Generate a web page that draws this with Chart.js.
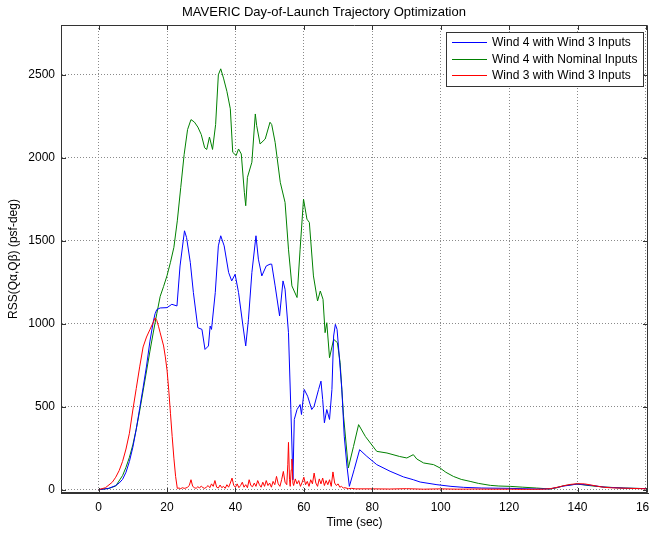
<!DOCTYPE html>
<html>
<head>
<meta charset="utf-8">
<script src="https://cdn.jsdelivr.net/npm/chart.js@4"></script>
<style>
  html, body { margin: 0; padding: 0; background: #fff; }
  #wrap { width: 649px; height: 533px; }
</style>
</head>
<body>
<div id="wrap"><canvas id="myChart" width="649" height="533"></canvas></div>
<script>
// --- data (time in sec, RSS in psf-deg) ---
const titleText = 'MAVERIC Day-of-Launch Trajectory Optimization';
const seriesNames = ['Wind 4 with Wind 3 Inputs', 'Wind 4 with Nominal Inputs', 'Wind 3 with Wind 3 Inputs'];
const seriesColors = ['#0000ff', '#008000', '#ff0000'];
const xTicks = [0, 20, 40, 60, 80, 100, 120, 140, 160];
const yTicks = [0, 500, 1000, 1500, 2000, 2500];

const blueT = [0, 3, 5, 6, 7, 8, 9, 10, 11, 12, 13, 14, 15, 16, 16.5, 17, 18, 20, 21.4, 22.9, 23.8, 25.1, 25.7, 26.8, 27.7, 29, 30.2, 31.1, 32.1, 32.6, 33, 34.1, 35, 35.7, 36.7, 38, 38.9, 39.9, 40.9, 42.2, 43, 43.8, 44.8, 46, 46.7, 47.7, 49, 50.1, 50.6, 51.6, 52.9, 53.9, 54.5, 55.5, 56.2, 56.8, 57.2, 58, 58.9, 59.3, 60.1, 61.1, 62.3, 63, 64.3, 65, 65.5, 66, 66.7, 67.5, 68.2, 68.7, 69.2, 69.7, 70.1, 71.1, 71.8, 72.6, 73.3, 74.7, 76.3, 78.4, 81.3, 85.2, 89.1, 92, 94, 98.9, 103, 106.7, 112, 120, 128, 132, 136, 140, 144, 148, 154, 160.6];
const blueV = [0, 8, 25, 40, 62, 105, 170, 255, 365, 490, 615, 745, 895, 1015, 1060, 1085, 1095, 1097, 1117, 1107, 1348, 1560, 1520, 1369, 1188, 976, 966, 845, 866, 986, 966, 1188, 1469, 1530, 1469, 1309, 1258, 1298, 1188, 986, 866, 1027, 1309, 1530, 1389, 1288, 1348, 1359, 1359, 1228, 1047, 1258, 1208, 946, 483, 60, 423, 483, 513, 453, 604, 563, 483, 503, 604, 654, 543, 403, 483, 423, 604, 926, 996, 966, 866, 604, 322, 141, 20, 121, 241, 201, 151, 111, 77, 60, 46, 30, 20, 14, 10, 8, 4, 5, 22, 34, 26, 15, 9, 6];

const greenT = [0, 3, 5, 7, 8, 9, 10, 11, 12, 13, 14, 15, 16, 17, 18, 19, 20, 21, 22, 23, 24, 25, 26, 27, 28, 29, 30, 31, 31.6, 32.4, 33.3, 34.2, 35, 35.7, 36.5, 37.5, 38.5, 39.2, 40.2, 40.9, 41.7, 42.6, 43, 43.5, 44.8, 45.8, 46.2, 47.2, 48.7, 50.1, 50.6, 51.6, 53.1, 54.5, 55.5, 56.5, 58, 58.9, 59.9, 60.9, 61.6, 62.8, 64, 64.8, 65.6, 66.2, 66.7, 67.5, 68.7, 69.8, 70.6, 71.6, 73, 74.5, 76, 78, 81.3, 84.3, 88, 90.1, 92, 93, 95, 97.9, 99.8, 101.5, 103.7, 106, 108.6, 111, 114.5, 117, 120.3, 124, 128, 132, 134, 136, 139.8, 143.7, 147.6, 153.4, 160.6];
const greenV = [0, 8, 22, 85, 135, 195, 270, 365, 475, 595, 715, 835, 950, 1060, 1165, 1225, 1290, 1370, 1460, 1620, 1820, 2020, 2170, 2230, 2215, 2185, 2140, 2060, 2050, 2125, 2050, 2200, 2500, 2536, 2480, 2400, 2295, 2033, 2013, 2053, 2023, 1792, 1711, 1882, 1973, 2264, 2194, 2083, 2113, 2214, 2200, 2093, 1852, 1731, 1449, 1228, 1158, 1449, 1751, 1630, 1610, 1288, 1137, 1197, 1147, 946, 1006, 795, 906, 886, 765, 443, 131, 260, 392, 320, 231, 221, 200, 191, 211, 185, 161, 151, 131, 105, 80, 62, 50, 38, 26, 22, 20, 15, 10, 4, 12, 24, 34, 24, 16, 10, 6];

const redT = [0, 2, 4, 5, 6, 7, 8, 9, 10, 11, 12, 13, 14, 15, 16, 16.5, 17, 17.5, 18, 19, 19.5, 20, 20.5, 21, 21.5, 22, 22.5, 23,
  23.5, 24, 24.5, 25, 25.5, 26, 26.5, 27, 27.5, 28, 28.5, 29, 29.5, 30, 30.5, 31, 31.5, 32, 32.5, 33, 33.5, 34, 34.5, 35, 35.5, 36, 36.5, 37, 37.5, 38, 38.5, 39, 39.5,
  40, 40.5, 41, 41.5, 42, 42.5, 43, 43.5, 44, 44.5, 45, 45.5, 46, 46.5, 47, 47.5, 48, 48.5, 49, 49.5, 50, 50.5, 51, 51.5, 52, 52.5, 53, 53.5, 54, 54.5, 55,
  55.3, 55.5, 55.8, 56, 56.3, 56.5, 56.8, 57, 57.5, 58, 58.5, 59, 59.5, 60, 60.5, 61, 61.5, 62, 62.5, 63, 63.5, 64, 64.5, 65, 65.5, 66, 66.5, 67, 67.5, 68, 68.5,
  69, 69.5, 70, 70.5, 71, 71.5, 72, 73, 74, 75, 80, 85, 90, 95, 100, 105, 110, 115, 120, 125, 130, 132, 134, 136, 138, 140, 142, 144, 146, 148, 150, 155, 160.6];
const redV = [0, 12, 45, 75, 115, 170, 245, 340, 480, 610, 740, 860, 920, 965, 1010, 1035, 1020, 985, 945, 866, 800, 720, 600, 460, 320, 190, 80, 8,
  10, 6, 12, 8, 10, 15, 25, 60, 20, 12, 8, 18, 10, 22, 12, 8, 15, 25, 12, 35, 20, 55, 15, 10, 28, 12, 20, 8, 30, 15, 40, 70, 25,
  15, 35, 12, 25, 45, 15, 30, 12, 60, 25, 18, 40, 20, 55, 30, 15, 45, 20, 55, 25, 40, 15, 50, 30, 80, 35, 20, 60, 110, 45, 30,
  150, 285, 60, 20, 120, 185, 40, 25, 65, 35, 55, 20, 45, 75, 30, 50, 20, 60, 35, 100, 40, 20, 65, 35, 70, 25, 55, 30, 60, 20, 107,
  40, 25, 35, 15, 20, 10, 12, 6, 8, 5, 5, 4, 6, 3, 5, 3, 4, 3, 3, 2, 3, 6, 14, 24, 32, 36, 35, 28, 20, 14, 11, 8, 5];

const xTitle = 'Time (sec)';
const yTitle = 'RSS(Q\u03B1,Q\u03B2) (psf-deg)';

function pts(ts, vs) { return ts.map((t, i) => ({x: t, y: vs[i]})); }

const FONT = 'Liberation Sans, Arial, Helvetica, sans-serif';
const AXIS = '#333';

// box round the axes with MATLAB-style inward tick marks
const boxPlugin = {
  id: 'box',
  afterDraw(chart) {
    const {ctx, chartArea: a, scales} = chart;
    ctx.save();
    ctx.strokeStyle = AXIS;
    ctx.lineWidth = 1;
    ctx.beginPath();
    ctx.rect(a.left + 0.5, a.top + 0.5, a.right - a.left - 1, a.bottom - a.top - 1);
    for (const t of scales.x.ticks) {
      const px = Math.round(scales.x.getPixelForValue(t.value)) + 0.5;
      ctx.moveTo(px, a.bottom); ctx.lineTo(px, a.bottom - 5);
      ctx.moveTo(px, a.top); ctx.lineTo(px, a.top + 5);
    }
    for (const t of scales.y.ticks) {
      const py = Math.round(scales.y.getPixelForValue(t.value)) + 0.5;
      ctx.moveTo(a.left, py); ctx.lineTo(a.left + 5, py);
      ctx.moveTo(a.right, py); ctx.lineTo(a.right - 5, py);
    }
    ctx.stroke();
    ctx.restore();
  }
};

// legend box inside the top right corner
const legendPlugin = {
  id: 'boxLegend',
  afterDraw(chart) {
    const ctx = chart.ctx;
    const x0 = 446, y0 = 32, w = 197, h = 54;
    ctx.save();
    ctx.setLineDash([]);
    ctx.fillStyle = '#fff';
    ctx.fillRect(x0, y0, w, h);
    ctx.strokeStyle = AXIS;
    ctx.lineWidth = 1;
    ctx.strokeRect(x0 + 0.5, y0 + 0.5, w, h);
    ctx.font = '12px ' + FONT;
    ctx.textBaseline = 'middle';
    for (let i = 0; i < seriesNames.length; i++) {
      const y = Math.round(y0 + 10 + i * 16.7) + 0.5;
      ctx.beginPath();
      ctx.strokeStyle = seriesColors[i];
      ctx.lineWidth = 1;
      ctx.moveTo(452, y);
      ctx.lineTo(487, y);
      ctx.stroke();
      ctx.fillStyle = '#000';
      ctx.fillText(seriesNames[i], 492, y);
    }
    ctx.restore();
  }
};

const ctx = document.getElementById('myChart');

const chart = new Chart(ctx, {
  type: 'line',
  data: {
    datasets: [
      { label: seriesNames[0], data: pts(blueT, blueV), borderColor: seriesColors[0], order: 1 },
      { label: seriesNames[1], data: pts(greenT, greenV), borderColor: seriesColors[1], order: 2 },
      { label: seriesNames[2], data: pts(redT, redV), borderColor: seriesColors[2], order: 0 }
    ]
  },
  options: {
    responsive: false,
    animation: false,
    events: [],
    layout: { padding: { left: 0, right: 1, top: 0, bottom: 0 } },
    elements: {
      line: { borderWidth: 1, tension: 0, fill: false },
      point: { radius: 0 }
    },
    plugins: {
      legend: { display: false },
      tooltip: { enabled: false },
      title: {
        display: true,
        text: titleText,
        color: '#000',
        font: { family: FONT, size: 13, weight: 'normal' },
        padding: { top: 4.5, bottom: 4.9 }
      }
    },
    scales: {
      x: {
        type: 'linear',
        min: -11,
        max: 160.6,
        grid: { color: '#8a8a8a', drawTicks: false },
        border: { color: AXIS, dash: [1, 2] },
        afterBuildTicks(s) { s.ticks = xTicks.map(v => ({value: v})); },
        ticks: {
          padding: 7, color: '#000', font: { family: FONT, size: 12 },
          maxRotation: 0, autoSkip: false,
          callback: v => String(v)
        },
        title: {
          display: true, text: xTitle, color: '#000',
          font: { family: FONT, size: 12 },
          padding: { top: 0, bottom: 3.3 }
        },
        afterFit(s) { s.height = 40; s.paddingLeft = 0; s.paddingRight = 0; }
      },
      y: {
        min: -20,
        max: 2800,
        grid: { color: '#8a8a8a', drawTicks: false },
        border: { color: AXIS, dash: [1, 2] },
        afterBuildTicks(s) { s.ticks = yTicks.map(v => ({value: v})); },
        ticks: {
          padding: 6, color: '#000', font: { family: FONT, size: 12 },
          autoSkip: false,
          callback: v => String(v)
        },
        title: {
          display: true, text: yTitle, color: '#000',
          font: { family: FONT, size: 12 },
          padding: { top: 6, bottom: 0 }
        },
        afterFit(s) { s.width = 61; s.paddingTop = 0; s.paddingBottom = 0; }
      }
    }
  },
  plugins: [boxPlugin, legendPlugin]
});
</script>
</body>
</html>
